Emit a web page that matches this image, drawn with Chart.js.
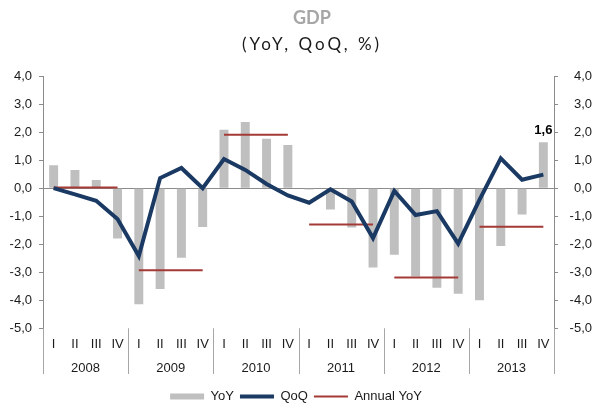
<!DOCTYPE html>
<html>
<head>
<meta charset="utf-8">
<script src="https://cdn.jsdelivr.net/npm/chart.js@4"></script>
<style>
  html, body { margin: 0; padding: 0; background: #fff; }
  #wrap { width: 592px; height: 407px; }
</style>
</head>
<body>
<div id="wrap"><canvas id="gdp"></canvas></div>
<script>
const years = ['2008', '2009', '2010', '2011', '2012', '2013'];
const quarters = ['I', 'II', 'III', 'IV'];
const yoy = [0.82, 0.65, 0.29, -1.80, -4.14, -3.60, -2.48, -1.39, 2.08, 2.36, 1.76, 1.54,
  -0.05, -0.76, -1.40, -2.83, -2.38, -3.15, -3.55, -3.77, -4.00, -2.06, -0.94, 1.64];
const qoq = [0.00, -0.22, -0.45, -1.10, -2.42, 0.36, 0.72, 0.00, 1.04, 0.65, 0.15, -0.26,
  -0.52, -0.04, -0.48, -1.78, -0.10, -0.96, -0.82, -1.98, -0.42, 1.06, 0.30, 0.48];
const annualYoy = [0.02, -2.93, 1.90, -1.30, -3.19, -1.38];

const labels = years.flatMap(() => quarters);
const annualByQuarter = annualYoy.flatMap(v => quarters.map(() => v));
const fmt = v => v.toFixed(1).replace('.', ',');

const GRAY = '#8c8c8c';
const FONT = 'Arial, "Liberation Sans", sans-serif';

// titles, year separators and the last bar's label
const extras = {
  id: 'extras',
  afterDraw(chart) {
    const { ctx, chartArea } = chart;
    const xs = chart.scales.x;
    const half = (xs.getPixelForValue(1) - xs.getPixelForValue(0)) / 2;
    ctx.save();
    ctx.strokeStyle = '#a6a6a6';
    ctx.lineWidth = 1;
    for (let k = 0; k <= years.length; k++) {
      const x = Math.round(xs.getPixelForValue(4 * k) - half) + 0.5;
      ctx.beginPath();
      ctx.moveTo(x, chartArea.bottom);
      ctx.lineTo(x, 374);
      ctx.stroke();
    }

    const last = chart.getDatasetMeta(0).data[yoy.length - 1];
    ctx.fillStyle = '#000';
    ctx.font = 'bold 13px ' + FONT;
    ctx.textAlign = 'center';
    ctx.textBaseline = 'bottom';
    ctx.fillText(fmt(yoy[yoy.length - 1]), last.x, last.y - 5);

    ctx.textBaseline = 'middle';
    ctx.fillStyle = '#a6a6a6';
    ctx.font = 'bold 18px Lato, "Open Sans", sans-serif';
    ctx.fillText('GDP', 312, 18);
    ctx.fillStyle = '#1a1a1a';
    ctx.font = '17px Lato, "Open Sans", sans-serif';
    ctx.letterSpacing = '3px';
    ctx.fillText('(YoY, QoQ, %)', 312, 45);
    ctx.restore();
  }
};

new Chart(document.getElementById('gdp'), {
  data: {
    labels,
    datasets: [
      {
        type: 'bar',
        label: 'YoY',
        data: yoy,
        backgroundColor: '#bfbfbf',
        borderWidth: 0,
        barPercentage: 0.42,
        categoryPercentage: 1,
        pointStyle: 'rect',
        order: 2
      },
      {
        type: 'line',
        label: 'QoQ',
        data: qoq,
        borderColor: '#1b3a63',
        backgroundColor: '#1b3a63',
        borderWidth: 4,
        pointRadius: 0,
        pointStyle: 'line',
        tension: 0,
        order: 0
      },
      {
        type: 'line',
        label: 'Annual YoY',
        data: annualByQuarter,
        borderColor: '#a33a36',
        backgroundColor: '#a33a36',
        borderWidth: 2,
        pointRadius: 0,
        pointStyle: 'line',
        tension: 0,
        segment: {
          borderColor: c => (c.p0DataIndex % 4 === 3 ? 'transparent' : '#a33a36')
        },
        order: 1
      }
    ]
  },
  options: {
    responsive: true,
    maintainAspectRatio: false,
    animation: false,
    layout: { padding: { top: 76, left: 0, right: 0, bottom: -6 } },
    plugins: {
      tooltip: { enabled: false },
      legend: {
        position: 'bottom',
        labels: {
          usePointStyle: true,
          pointStyleWidth: 34,
          boxHeight: 6,
          padding: 6,
          color: '#1a1a1a',
          font: { family: FONT, size: 13 },
          sort: (a, b) => a.datasetIndex - b.datasetIndex
        }
      }
    },
    scales: {
      x: {
        type: 'category',
        position: 'bottom',
        grid: { display: false },
        border: { display: false },
        ticks: {
          autoSkip: false, maxRotation: 0, padding: 0,
          color: '#1a1a1a', font: { family: FONT, size: 13 }
        },
        afterFit: s => { s.height = 24; }
      },
      x2: {
        type: 'category',
        position: 'bottom',
        labels: years,
        offset: true,
        grid: { display: false },
        border: { display: false },
        ticks: {
          autoSkip: false, maxRotation: 0, padding: 0,
          color: '#1a1a1a', font: { family: FONT, size: 13 }
        },
        afterFit: s => { s.height = 31.7; }
      },
      y: {
        position: 'left',
        min: -5, max: 4,
        ticks: {
          stepSize: 1, padding: 7, callback: v => fmt(v),
          color: '#1a1a1a', font: { family: FONT, size: 13 }
        },
        grid: {
          color: c => (c.tick && c.tick.value === 0 ? GRAY : 'transparent'),
          tickColor: GRAY, tickLength: 4, lineWidth: 1
        },
        border: { color: GRAY },
        afterFit: s => { s.width = 43; }
      },
      y2: {
        position: 'right',
        min: -5, max: 4,
        ticks: {
          stepSize: 1, padding: 4, crossAlign: 'far', callback: v => fmt(v),
          color: '#1a1a1a', font: { family: FONT, size: 13 }
        },
        grid: { drawOnChartArea: false, tickColor: GRAY, tickLength: 4 },
        border: { color: GRAY },
        afterFit: s => { s.width = 38; }
      }
    }
  },
  plugins: [extras]
});
</script>
</body>
</html>
